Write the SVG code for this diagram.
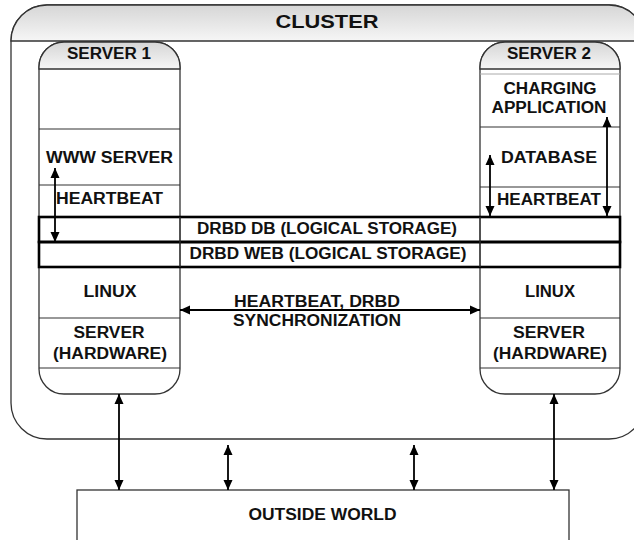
<svg xmlns="http://www.w3.org/2000/svg" width="634" height="540" viewBox="0 0 634 540">
<defs>
<linearGradient id="hdr" x1="0" y1="0" x2="0" y2="1">
<stop offset="0" stop-color="#d6d6d6"/>
<stop offset="1" stop-color="#f6f6f6"/>
</linearGradient>
<marker id="ah" viewBox="0 0 10 10" refX="10" refY="5" markerWidth="10" markerHeight="10" markerUnits="userSpaceOnUse" orient="auto-start-reverse">
<path d="M0,0.5 L10,5 L0,9.5 z" fill="#000"/>
</marker>
<style>
text{font-family:"Liberation Sans",Arial,sans-serif;font-weight:bold;font-size:16px;fill:#111;text-anchor:middle}
.t{font-size:19px}
.box{fill:#fff;stroke:#333;stroke-width:1.3}
.hd{fill:url(#hdr);stroke:#333;stroke-width:1.3}
.ln{stroke:#333;stroke-width:1.1;fill:none}
.lg{stroke:#aaa;stroke-width:1;fill:none}
.drbd{fill:none;stroke:#000;stroke-width:2.6}
.ar{stroke:#000;stroke-width:1.8;fill:none;marker-start:url(#ah);marker-end:url(#ah)}
</style>
</defs>
<g id="cluster">
<rect class="box" x="11" y="5" width="634" height="434" rx="36" ry="36"/>
<path class="hd" d="M11,41 A36,36 0 0 1 47,5 H609 A36,36 0 0 1 645,41 Z"/>
<text class="t" x="327" y="28" textLength="103" lengthAdjust="spacingAndGlyphs">CLUSTER</text>
</g>
<g id="server1">
<rect class="box" x="39" y="42" width="141" height="352" rx="25" ry="25"/>
<path class="hd" d="M39,69 V67 A25,25 0 0 1 64,42 H155 A25,25 0 0 1 180,67 V69 Z"/>
<line class="ln" x1="39" y1="129" x2="180" y2="129"/>
<line class="ln" x1="39" y1="185" x2="180" y2="185"/>
<line class="ln" x1="39" y1="318" x2="180" y2="318"/>
<line class="ln" x1="39" y1="368" x2="180" y2="368"/>
<text x="109" y="59" textLength="84" lengthAdjust="spacingAndGlyphs">SERVER 1</text>
<text x="109.5" y="163" textLength="127" lengthAdjust="spacingAndGlyphs">WWW SERVER</text>
<text x="109.5" y="204" textLength="107" lengthAdjust="spacingAndGlyphs">HEARTBEAT</text>
<text x="110" y="297" textLength="53" lengthAdjust="spacingAndGlyphs">LINUX</text>
<text x="109" y="338" textLength="71" lengthAdjust="spacingAndGlyphs">SERVER</text>
<text x="110" y="359" textLength="114" lengthAdjust="spacingAndGlyphs">(HARDWARE)</text>
</g>
<g id="server2">
<rect class="box" x="480" y="42" width="140" height="352" rx="25" ry="25"/>
<path class="hd" d="M480,69 V67 A25,25 0 0 1 505,42 H595 A25,25 0 0 1 620,67 V69 Z"/>
<line class="lg" x1="480" y1="74" x2="620" y2="74"/>
<line class="ln" x1="480" y1="127" x2="620" y2="127"/>
<line class="ln" x1="480" y1="187" x2="620" y2="187"/>
<line class="ln" x1="480" y1="318" x2="620" y2="318"/>
<line class="ln" x1="480" y1="368" x2="620" y2="368"/>
<text x="549" y="59" textLength="84" lengthAdjust="spacingAndGlyphs">SERVER 2</text>
<text x="550" y="94" textLength="93" lengthAdjust="spacingAndGlyphs">CHARGING</text>
<text x="549" y="113" textLength="115" lengthAdjust="spacingAndGlyphs">APPLICATION</text>
<text x="549" y="163" textLength="96" lengthAdjust="spacingAndGlyphs">DATABASE</text>
<text x="549" y="205" textLength="104" lengthAdjust="spacingAndGlyphs">HEARTBEAT</text>
<text x="550" y="297" textLength="50" lengthAdjust="spacingAndGlyphs">LINUX</text>
<text x="549" y="338" textLength="72" lengthAdjust="spacingAndGlyphs">SERVER</text>
<text x="550" y="359" textLength="114" lengthAdjust="spacingAndGlyphs">(HARDWARE)</text>
</g>
<g id="drbd-db">
<rect class="drbd" x="39" y="217" width="581" height="25"/>
<text x="327" y="234" textLength="260" lengthAdjust="spacingAndGlyphs">DRBD DB (LOGICAL STORAGE)</text>
</g>
<g id="drbd-web">
<rect class="drbd" x="39" y="242" width="581" height="25"/>
<text x="328" y="259" textLength="277" lengthAdjust="spacingAndGlyphs">DRBD WEB (LOGICAL STORAGE)</text>
</g>
<g id="outside-world">
<rect class="box" x="77" y="490" width="492" height="80"/>
<text x="322.5" y="520" textLength="148" lengthAdjust="spacingAndGlyphs">OUTSIDE WORLD</text>
</g>
<g id="connectors">
<line class="ln" x1="180" y1="217" x2="180" y2="267"/>
<line class="ln" x1="480" y1="217" x2="480" y2="267"/>
<line class="ar" x1="55" y1="168" x2="55" y2="242"/>
<line class="ar" x1="490" y1="155" x2="490" y2="216"/>
<line class="ar" x1="607" y1="117" x2="607" y2="216"/>
<line class="ar" x1="180" y1="310" x2="480" y2="310"/>
<text x="317" y="307" textLength="166" lengthAdjust="spacingAndGlyphs">HEARTBEAT, DRBD</text>
<text x="317" y="326" textLength="168" lengthAdjust="spacingAndGlyphs">SYNCHRONIZATION</text>
<line class="ar" x1="119" y1="394" x2="119" y2="490"/>
<line class="ar" x1="554" y1="394" x2="554" y2="490"/>
<line class="ar" x1="228" y1="445" x2="228" y2="490"/>
<line class="ar" x1="414" y1="445" x2="414" y2="490"/>
</g>
</svg>
